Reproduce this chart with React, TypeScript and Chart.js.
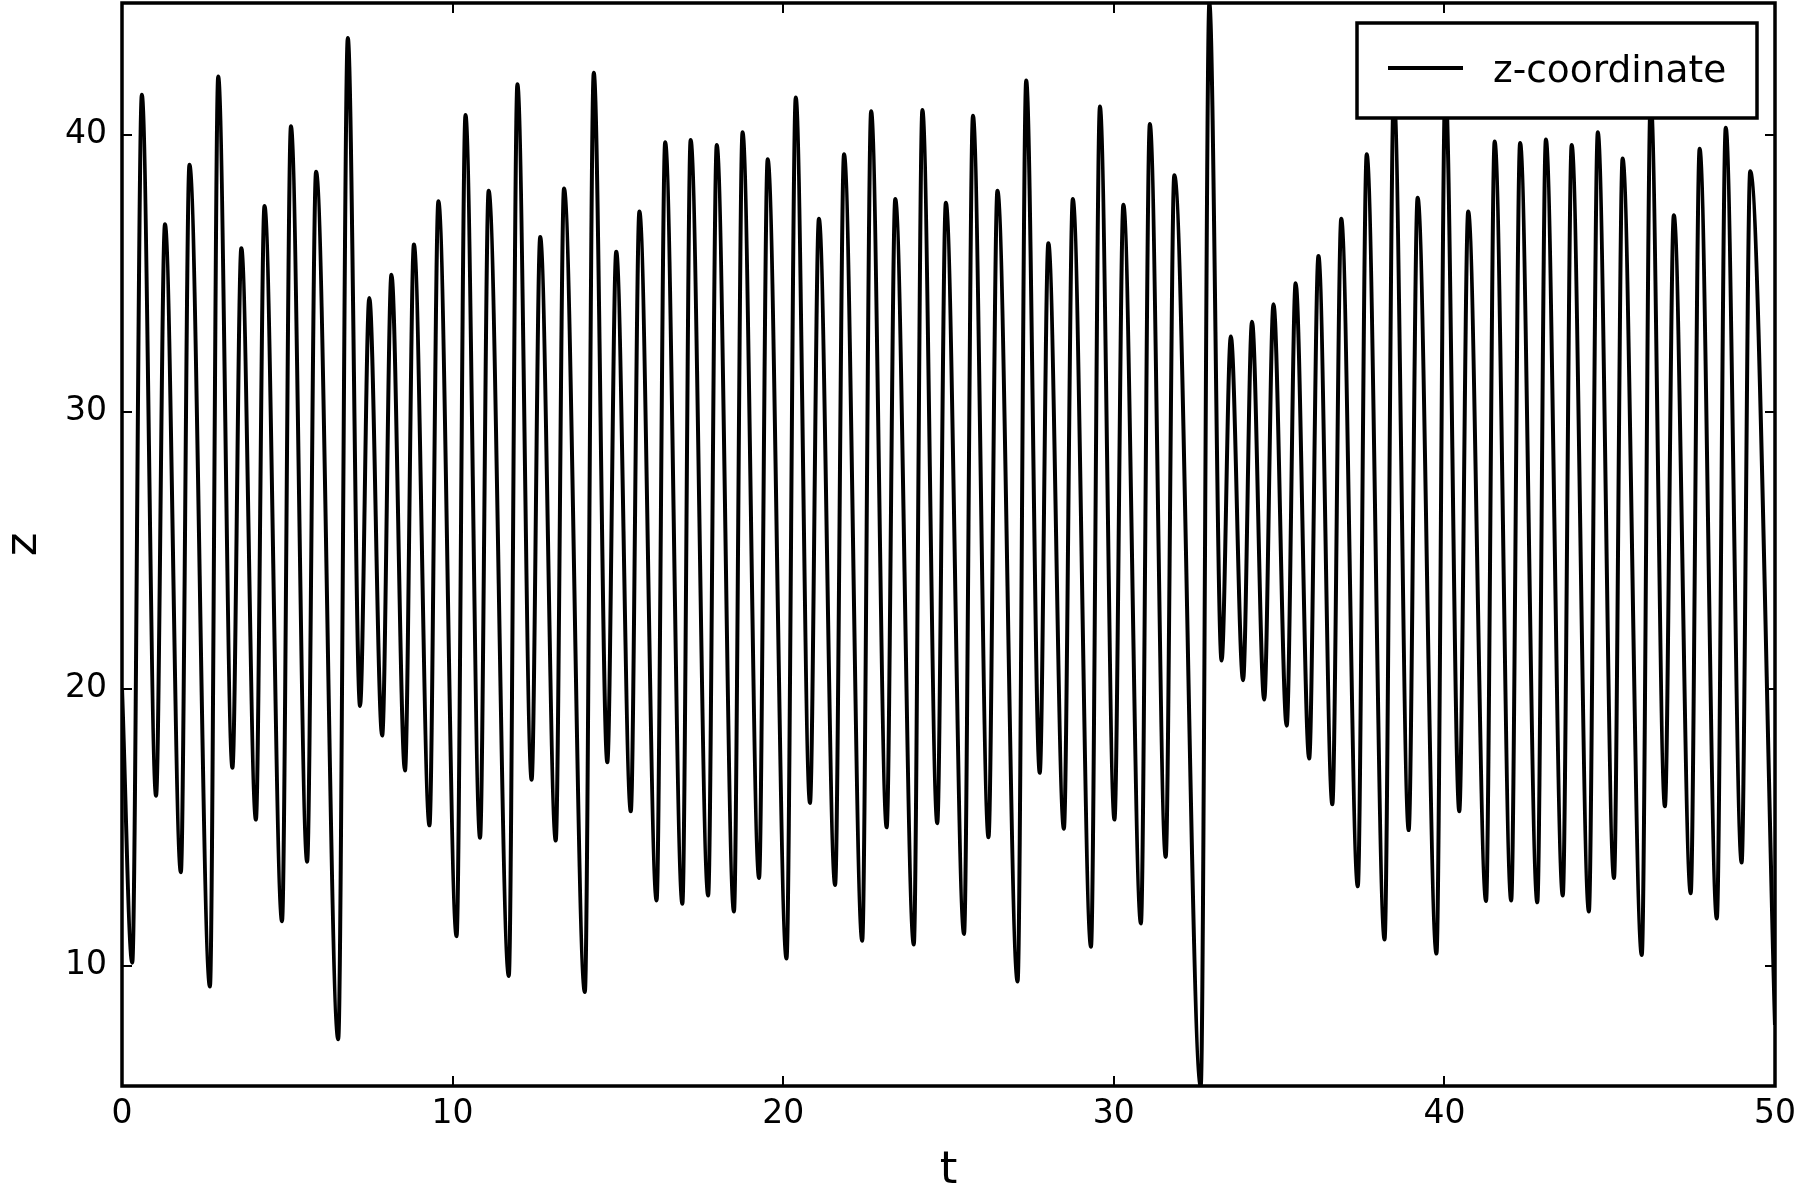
import React, { useEffect, useRef } from "react";
import { Chart, registerables } from "chart.js";

Chart.register(...registerables);

// Time of each turning point of the trajectory (start, then alternating peaks / troughs)
const tValues = [
  0, 0.31,
  0.6, 1.03, 1.3, 1.78, 2.04, 2.66, 2.91, 3.34,
  3.61, 4.05, 4.31, 4.84, 5.11, 5.6, 5.87, 6.54,
  6.83, 7.2, 7.48, 7.87, 8.15, 8.56, 8.83, 9.3,
  9.57, 10.12, 10.39, 10.83, 11.09, 11.7, 11.96, 12.39,
  12.65, 13.12, 13.37, 14.0, 14.27, 14.68, 14.95, 15.39,
  15.65, 16.17, 16.43, 16.95, 17.2, 17.73, 17.99, 18.51,
  18.77, 19.27, 19.53, 20.1, 20.38, 20.81, 21.08, 21.57,
  21.84, 22.39, 22.66, 23.13, 23.39, 23.95, 24.21, 24.66,
  24.92, 25.47, 25.74, 26.21, 26.48, 27.09, 27.35, 27.76,
  28.02, 28.49, 28.76, 29.31, 29.58, 30.02, 30.29, 30.82,
  31.09, 31.57, 31.83, 32.63, 32.89, 33.26, 33.54, 33.91,
  34.18, 34.55, 34.83, 35.23, 35.5, 35.91, 36.19, 36.61,
  36.88, 37.38, 37.65, 38.19, 38.47, 38.92, 39.19, 39.76,
  40.03, 40.45, 40.72, 41.26, 41.52, 42.02, 42.29, 42.81,
  43.07, 43.58, 43.85, 44.37, 44.64, 45.13, 45.39, 45.97,
  46.24, 46.67, 46.94, 47.45, 47.72, 48.24, 48.51, 48.99,
  49.25, 50.0,
];

// z value at each of those turning points
const zValues = [
  20.0, 10.1,
  41.44, 16.13, 36.76, 13.37, 38.91, 9.24, 42.1, 17.14,
  35.9, 15.27, 37.42, 11.6, 40.3, 13.75, 38.66, 7.34,
  43.49, 19.37, 34.1, 18.3, 34.94, 17.04, 36.03, 15.06,
  37.59, 11.06, 40.71, 14.61, 37.97, 9.62, 41.82, 16.71,
  36.3, 14.51, 38.05, 9.04, 42.23, 17.34, 35.77, 15.57,
  37.22, 12.35, 39.72, 12.23, 39.8, 12.53, 39.62, 11.95,
  40.08, 13.16, 39.11, 10.25, 41.34, 15.87, 36.96, 12.91,
  39.29, 10.89, 40.84, 14.99, 37.67, 10.76, 40.89, 15.14,
  37.54, 11.14, 40.68, 14.63, 37.97, 9.42, 41.95, 16.96,
  36.08, 14.94, 37.67, 10.68, 41.01, 15.27, 37.47, 11.52,
  40.38, 13.92, 38.53, 5.65, 44.75, 21.01, 32.71, 20.3,
  33.24, 19.6, 33.87, 18.66, 34.63, 17.47, 35.62, 15.82,
  36.96, 12.86, 39.29, 10.94, 41.5, 14.89, 37.72, 10.43,
  41.8, 15.57, 37.22, 12.33, 39.75, 12.35, 39.7, 12.28,
  39.82, 12.53, 39.62, 11.95, 40.08, 13.16, 39.14, 10.38,
  41.3, 15.75, 37.09, 12.61, 39.49, 11.7, 40.25, 13.72,
  38.68, 7.85,
];

const xTickValues = [0, 10, 20, 30, 40, 50];
const yTickValues = [10, 20, 30, 40];
const seriesLabel = "z-coordinate";
const xTitle = "t";
const yTitle = "z";
const xRange = [0, 50];
const yRange = [5.65, 44.75];

const FONT = "'DejaVu Sans', 'Liberation Sans', sans-serif";

const framePlugin = {
  id: "frameAndLegend",
  afterDraw(chart: any) {
    const { ctx, chartArea: a, scales } = chart;
    const xs = scales.x;
    const ys = scales.y;
    ctx.save();
    ctx.strokeStyle = "#000";
    ctx.lineCap = "butt";
    // inward ticks on all four sides
    ctx.lineWidth = 2;
    ctx.beginPath();
    for (const v of xTickValues) {
      const px = Math.round(xs.getPixelForValue(v));
      ctx.moveTo(px, a.bottom);
      ctx.lineTo(px, a.bottom - 10);
      ctx.moveTo(px, a.top);
      ctx.lineTo(px, a.top + 10);
    }
    for (const v of yTickValues) {
      const py = Math.round(ys.getPixelForValue(v));
      ctx.moveTo(a.left, py);
      ctx.lineTo(a.left + 10, py);
      ctx.moveTo(a.right, py);
      ctx.lineTo(a.right - 10, py);
    }
    ctx.stroke();
    // spines
    ctx.lineWidth = 3.5;
    ctx.strokeRect(a.left, a.top, a.right - a.left, a.bottom - a.top);

    // legend box
    const lw = 400;
    const lh = 95;
    const lx = a.right - 18 - lw;
    const ly = a.top + 20;
    ctx.fillStyle = "#fff";
    ctx.fillRect(lx, ly, lw, lh);
    ctx.lineWidth = 3.5;
    ctx.strokeRect(lx, ly, lw, lh);
    ctx.lineWidth = 4;
    ctx.beginPath();
    ctx.moveTo(lx + 31, ly + 45);
    ctx.lineTo(lx + 106, ly + 45);
    ctx.stroke();
    ctx.fillStyle = "#000";
    ctx.font = `37.5px ${FONT}`;
    ctx.textAlign = "left";
    ctx.textBaseline = "alphabetic";
    ctx.fillText(seriesLabel, lx + 136, ly + 59);
    ctx.restore();
  },
};

export default function App() {
  const canvasRef = useRef<HTMLCanvasElement | null>(null);

  useEffect(() => {
    const canvas = canvasRef.current;
    if (!canvas) return;
    const points = tValues.map((t, i) => ({ x: t, y: zValues[i] }));
    const chart = new Chart(canvas, {
      type: "line",
      data: {
        datasets: [
          {
            label: seriesLabel,
            data: points,
            borderColor: "#000",
            backgroundColor: "#000",
            borderWidth: 4,
            pointRadius: 0,
            pointHoverRadius: 0,
            fill: false,
            cubicInterpolationMode: "monotone",
          },
        ],
      },
      options: {
        responsive: false,
        animation: false,
        devicePixelRatio: 1,
        events: [],
        layout: { padding: { left: 0, right: 25, top: 3, bottom: 0 } },
        plugins: {
          legend: { display: false },
          tooltip: { enabled: false },
        },
        scales: {
          x: {
            type: "linear",
            min: xRange[0],
            max: xRange[1],
            afterBuildTicks: (s: any) => {
              s.ticks = xTickValues.map((v) => ({ value: v }));
            },
            afterFit: (s: any) => {
              s.height = 114;
              s.paddingLeft = 0;
              s.paddingRight = 0;
            },
            grid: { display: false, drawTicks: false },
            border: { display: false },
            ticks: {
              color: "#000",
              font: { family: FONT, size: 33 },
              padding: 9,
              maxRotation: 0,
              autoSkip: false,
            },
            title: {
              display: true,
              text: xTitle,
              color: "#000",
              font: { family: FONT, size: 45, lineHeight: 1 },
              padding: { top: 0, bottom: 6.5 },
            },
          },
          y: {
            type: "linear",
            min: yRange[0],
            max: yRange[1],
            afterBuildTicks: (s: any) => {
              s.ticks = yTickValues.map((v) => ({ value: v }));
            },
            afterFit: (s: any) => {
              s.width = 122;
              s.paddingTop = 0;
              s.paddingBottom = 0;
            },
            grid: { display: false, drawTicks: false },
            border: { display: false },
            ticks: {
              color: "#000",
              font: { family: FONT, size: 33 },
              padding: 15,
              autoSkip: false,
            },
            title: {
              display: true,
              text: yTitle,
              color: "#000",
              font: { family: FONT, size: 45, lineHeight: 1 },
              padding: { top: 2, bottom: 0 },
            },
          },
        },
      },
      plugins: [framePlugin],
    } as any);
    return () => chart.destroy();
  }, []);

  return (
    <div
      style={{
        position: "absolute",
        left: 0,
        top: 0,
        width: 1800,
        height: 1200,
        background: "#fff",
      }}
    >
      <canvas
        ref={canvasRef}
        width={1800}
        height={1200}
        style={{ display: "block", width: 1800, height: 1200 }}
      />
    </div>
  );
}
